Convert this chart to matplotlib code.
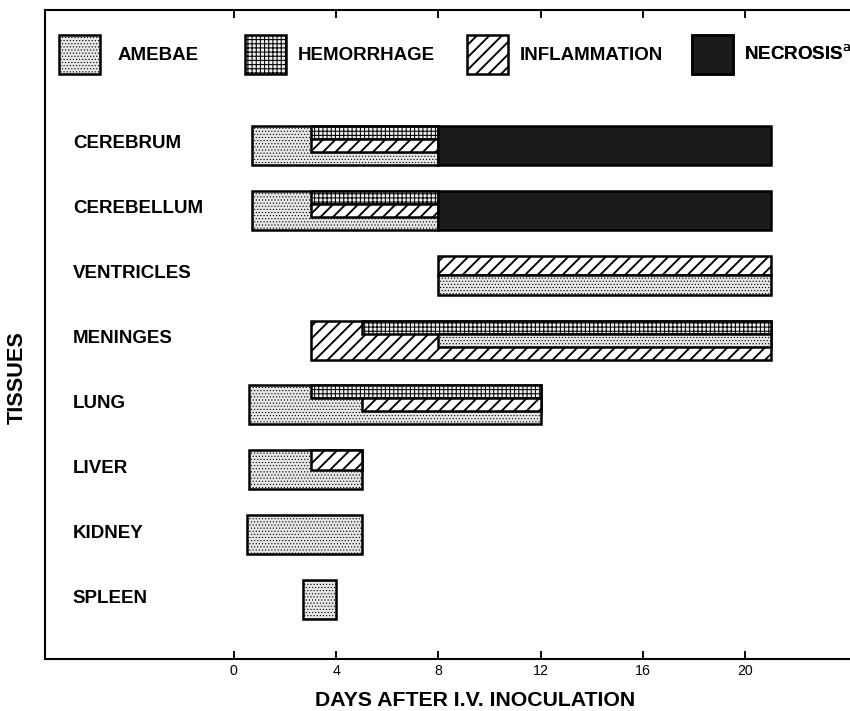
import matplotlib
matplotlib.use("Agg")
import matplotlib.pyplot as plt
from matplotlib.patches import Patch
from matplotlib.transforms import blended_transform_factory

# --- data ---
tissues = ["CEREBRUM", "CEREBELLUM", "VENTRICLES", "MENINGES",
           "LUNG", "LIVER", "KIDNEY", "SPLEEN"]
findings = ["AMEBAE", "HEMORRHAGE", "INFLAMMATION", "NECROSIS"]
legend_labels = ["AMEBAE", "HEMORRHAGE", "INFLAMMATION", r"NECROSIS$^{\rm a}$"]
day_ticks = [0, 4, 8, 12, 16, 20]

# one entry per drawn segment: tissue, finding, first day, last day,
# and which stripe of the bar it fills (from stripe, to stripe, of n stripes)
seg_tissue = ["CEREBRUM", "CEREBRUM", "CEREBRUM", "CEREBRUM",
              "CEREBELLUM", "CEREBELLUM", "CEREBELLUM", "CEREBELLUM",
              "VENTRICLES", "VENTRICLES",
              "MENINGES", "MENINGES", "MENINGES",
              "LUNG", "LUNG", "LUNG",
              "LIVER", "LIVER",
              "KIDNEY",
              "SPLEEN"]
seg_finding = ["AMEBAE", "HEMORRHAGE", "INFLAMMATION", "NECROSIS",
               "AMEBAE", "HEMORRHAGE", "INFLAMMATION", "NECROSIS",
               "INFLAMMATION", "AMEBAE",
               "INFLAMMATION", "HEMORRHAGE", "AMEBAE",
               "AMEBAE", "HEMORRHAGE", "INFLAMMATION",
               "AMEBAE", "INFLAMMATION",
               "AMEBAE",
               "AMEBAE"]
seg_start = [0.7, 3, 3, 8,
             0.7, 3, 3, 8,
             8, 8,
             3, 5, 8,
             0.6, 3, 5,
             0.6, 3,
             0.5,
             2.7]
seg_end = [8, 8, 8, 21,
           8, 8, 8, 21,
           21, 21,
           21, 21, 21,
           12, 12, 12,
           5, 5,
           5,
           4]
seg_band = [(0, 3, 3), (0, 1, 3), (1, 2, 3), (0, 3, 3),
            (0, 3, 3), (0, 1, 3), (1, 2, 3), (0, 3, 3),
            (0, 1, 2), (1, 2, 2),
            (0, 3, 3), (0, 1, 3), (1, 2, 3),
            (0, 3, 3), (0, 1, 3), (1, 2, 3),
            (0, 2, 2), (0, 1, 2),
            (0, 1, 1),
            (0, 1, 1)]

# --- styles ---
styles = {
    "AMEBAE":       dict(facecolor="#e6e6e6", hatch="........", hlw=0.3),
    "HEMORRHAGE":   dict(facecolor="#eeeeee", hatch="++++++", hlw=0.5),
    "INFLAMMATION": dict(facecolor="white", hatch="////", hlw=0.9),
    "NECROSIS":     dict(facecolor="#1b1b1b", hatch=None, hlw=0.5),
}
# left edge of each legend entry and gap to its text
legend_anchor_x = [0.0174, 0.2481, 0.5236, 0.8027]
legend_text_pad = [0.9, 0.6, 0.6, 0.6]

label_font = "Liberation Sans"

DPI = 150
fig = plt.figure(figsize=(851 / DPI, 711 / DPI), dpi=DPI)
ax = fig.add_axes([45 / 851, 1 - 659 / 711, 806 / 851, 649 / 711])

bar_h = 0.6


def style_patch(p, name):
    st = styles[name]
    if st["hatch"] and hasattr(p, "set_hatch_linewidth"):
        p.set_hatch_linewidth(st["hlw"])


for t, f, s, e, (b0, b1, n) in zip(seg_tissue, seg_finding, seg_start, seg_end, seg_band):
    k = tissues.index(t)
    top = k - bar_h / 2 + bar_h * b0 / n
    st = styles[f]
    with plt.rc_context({"hatch.linewidth": st["hlw"]}):
        bars = ax.barh(top, e - s, left=s, height=bar_h * (b1 - b0) / n, align="edge",
                       facecolor=st["facecolor"], edgecolor="black", linewidth=1.2,
                       hatch=st["hatch"])
        for p in bars:
            style_patch(p, f)

ax.set_xlim(-7.38, 24.13)
ax.set_ylim(7.91, -2.08)

# tissue names inside the frame
trans = blended_transform_factory(ax.transAxes, ax.transData)
for k, t in enumerate(tissues):
    ax.text(0.0347, k - 0.02, t, transform=trans, ha="left", va="center",
            fontsize=9.0, fontweight="bold", family=label_font)

# ticks and spines
ax.set_yticks([])
ax.set_xticks(day_ticks)
ax.set_xticklabels([str(d) for d in day_ticks], family=label_font, fontsize=6.8)
ax.tick_params(axis="x", which="both", direction="in", bottom=True, top=True,
               length=4, width=0.9, pad=2.5)
for side in ["left", "bottom", "top"]:
    ax.spines[side].set_linewidth(1.0)
ax.spines["right"].set_visible(False)

ax.set_xlabel("DAYS AFTER I.V. INOCULATION", family=label_font, fontsize=10.2,
              fontweight="bold")
ax.xaxis.set_label_coords(0.5335, -0.050)
ax.xaxis.label.set_va("top")
ax.set_ylabel("TISSUES", family=label_font, fontsize=10.4, fontweight="bold")
ax.yaxis.set_label_coords(-0.021, 0.433)

# legend across the top of the frame, one entry at a time
for f, lab, xa, tp in zip(findings, legend_labels, legend_anchor_x, legend_text_pad):
    st = styles[f]
    with plt.rc_context({"hatch.linewidth": st["hlw"]}):
        h = Patch(facecolor=st["facecolor"], edgecolor="black", linewidth=1.2,
                  hatch=st["hatch"])
        style_patch(h, f)
        leg = ax.legend([h], [lab], loc="upper left", bbox_to_anchor=(xa, 0.962),
                        frameon=False, borderpad=0, borderaxespad=0,
                        handlelength=2.2, handleheight=2.85, handletextpad=tp,
                        prop=dict(family=label_font, size=9.0, weight="bold"))
        for p in leg.get_patches():
            style_patch(p, f)
    ax.add_artist(leg)

fig.savefig("out.png", dpi=DPI)
